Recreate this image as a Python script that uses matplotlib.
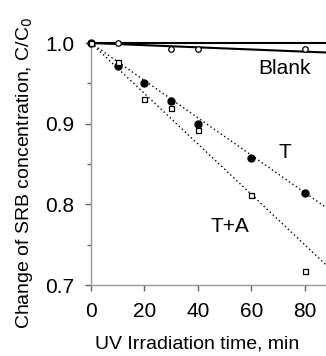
import matplotlib
matplotlib.use("Agg")
import matplotlib.pyplot as plt
import numpy as np

plt.rcParams['font.family'] = ['Liberation Sans', 'DejaVu Sans']

# Data
t_blank = [0, 10, 30, 40, 80]
c_blank = [1.0, 1.0, 0.993, 0.993, 0.993]
t_T = [0, 10, 20, 30, 40, 60, 80]
c_T = [1.0, 0.971, 0.951, 0.928, 0.900, 0.857, 0.814]
t_TA = [0, 10, 20, 30, 40, 60, 80]
c_TA = [1.0, 0.976, 0.930, 0.920, 0.892, 0.811, 0.717]

# fitted line slopes (per min)
slope_blank = -0.000134
slope_T = -0.00232
slope_TA = -0.00313

xticks = [0, 20, 40, 60, 80]
yticks = [0.7, 0.8, 0.9, 1.0]
ytick_labels = ['0.7', '0.8', '0.9', '1.0']

fig = plt.figure(figsize=(3.26, 3.56), dpi=100)
ax = fig.add_axes([0.279, 0.1994, 0.721, 0.6798])
xmax = 87.85
ax.set_xlim(0, xmax)
ax.set_ylim(0.7, 1.0)

tl = np.array([0, xmax])
ax.plot(tl, [1.0, 1.0], color='black', lw=1.5, clip_on=False, zorder=3)
ax.plot(tl, 1.0 + slope_blank * tl, color='black', lw=1.5, zorder=3)
ax.plot(tl, 1.0 + slope_T * tl, color='black', lw=1.0, ls=(0, (1, 2)), zorder=2)
ax.plot(tl, 1.0 + slope_TA * tl, color='black', lw=1.0, ls=(0, (1, 2)), zorder=2)

ax.plot(t_blank, c_blank, 'o', ms=4, mfc='white', mec='black', mew=0.9, clip_on=False, zorder=4)
ax.plot(t_T, c_T, 'o', ms=5, mfc='black', mec='black', clip_on=False, zorder=4)
ax.plot(t_TA, c_TA, 's', ms=3.6, mfc='white', mec='black', mew=0.9, clip_on=False, zorder=5)

ax.text(62.4, 0.969, 'Blank', fontsize=15, va='center', ha='left')
ax.text(72.5, 0.864, 'T', fontsize=15, va='center', ha='center')
ax.text(52, 0.772, 'T+A', fontsize=15, va='center', ha='center')

ax.spines['top'].set_visible(False)
ax.spines['right'].set_visible(False)
for s in ['left', 'bottom']:
    ax.spines[s].set_color('#999999')
    ax.spines[s].set_linewidth(1.0)

ax.set_xticks(xticks)
ax.set_yticks(yticks)
ax.set_yticklabels(ytick_labels)
ax.set_yticks([0.75, 0.85, 0.95], minor=True)
ax.tick_params(axis='both', which='major', direction='out', length=4, width=1,
               color='#666666', labelsize=15)
ax.tick_params(axis='y', which='major', pad=8)
ax.tick_params(axis='x', which='major', pad=8)
ax.tick_params(axis='y', which='minor', direction='out', length=3, width=1, color='#666666')

ax.set_xlabel('UV Irradiation time, min', fontsize=14)
ax.set_ylabel('Change of SRB concentration, C/C$_0$', fontsize=14)
ax.xaxis.set_label_coords(0.453, -0.21)
ax.yaxis.set_label_coords(-0.24, 0.463)

fig.savefig('out.png', dpi=100)
